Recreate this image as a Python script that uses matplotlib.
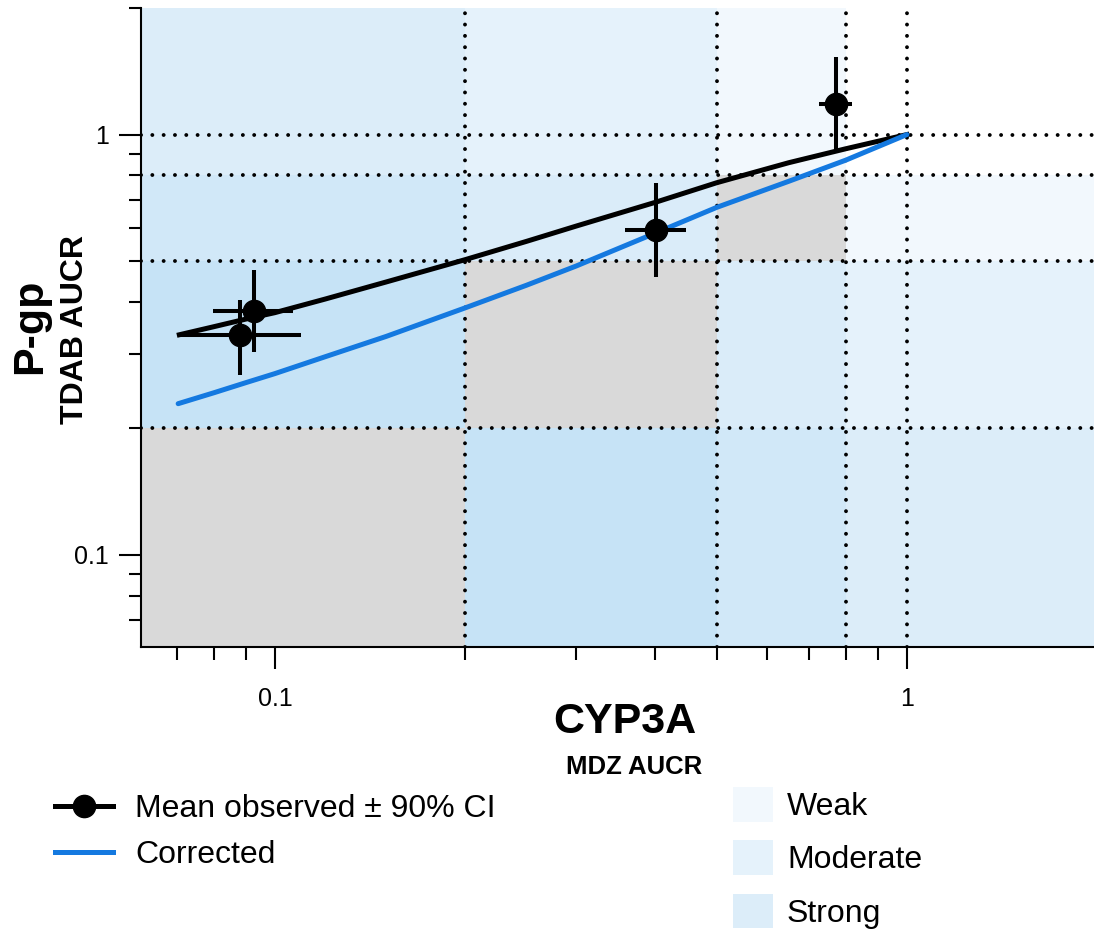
import matplotlib
matplotlib.use("Agg")
import matplotlib.pyplot as plt
import matplotlib.ticker as mticker
from matplotlib.lines import Line2D
from matplotlib.patches import Patch

plt.rcParams['font.family'] = ['Liberation Sans', 'DejaVu Sans']

# observed mean AUC ratios with 90% CI (CYP3A probe on x, P-gp probe on y)
obs_mdz = [0.0926, 0.0880, 0.401, 0.772]
obs_mdz_lo = [0.0798, 0.0708, 0.358, 0.726]
obs_mdz_hi = [0.107, 0.110, 0.447, 0.818]
obs_tdab = [0.381, 0.334, 0.594, 1.185]
obs_tdab_lo = [0.304, 0.268, 0.459, 0.916]
obs_tdab_hi = [0.477, 0.405, 0.769, 1.53]

# predicted curve
pred_mdz = [0.0706, 0.08, 0.09, 0.1, 0.12, 0.15, 0.2, 0.25, 0.3, 0.4, 0.5, 0.65, 0.8, 1.0]
pred_tdab = [0.334, 0.349, 0.364, 0.377, 0.406, 0.446, 0.504, 0.557, 0.606, 0.690, 0.768,
             0.857, 0.925, 1.0]

# corrected curve
corr_mdz = [0.0703, 0.08, 0.09, 0.1, 0.12, 0.15, 0.2, 0.25, 0.3, 0.4, 0.5, 0.65, 0.8, 1.0]
corr_tdab = [0.229, 0.243, 0.257, 0.270, 0.296, 0.331, 0.387, 0.438, 0.487, 0.583, 0.671,
             0.774, 0.869, 1.0]

# interaction classes and their AUCR bands
class_names = ['Weak', 'Moderate', 'Strong']
class_lo = [0.5, 0.2, 0.001]
class_hi = [0.8, 0.5, 0.2]
class_alpha = [0.06, 0.117, 0.16]
cutoffs = [0.2, 0.5, 0.8, 1.0]

band_color = '#2995DF'
blue = '#1479E0'

fig = plt.figure(figsize=(10.94, 9.30), dpi=100)
ax = fig.add_axes([141 / 1094, 1 - 647 / 930, 1 - 141 / 1094, (647 - 8) / 930])
ax.set_xscale('log')
ax.set_yscale('log')
ax.set_xlim(0.0614, 1.977)
ax.set_ylim(0.0604, 2.0)

# shaded bands for each probe, grey where both fall in the same class
for lo, hi, a in zip(class_lo, class_hi, class_alpha):
    ax.axvspan(lo, hi, color=band_color, alpha=a, lw=0, zorder=0)
    ax.axhspan(lo, hi, color=band_color, alpha=a, lw=0, zorder=0)
    ax.fill_between([lo, hi], lo, hi, color='#D9D9D9', lw=0, zorder=1)

for c in cutoffs:
    ax.axvline(c, color='k', lw=2.8, dashes=(0.01, 2.9), dash_capstyle='round', zorder=2)
    ax.axhline(c, color='k', lw=2.8, dashes=(0.01, 2.9), dash_capstyle='round', zorder=2)

ax.plot(pred_mdz, pred_tdab, color='k', lw=3.6, zorder=3, solid_joinstyle='round')
ax.plot(corr_mdz, corr_tdab, color=blue, lw=3.6, zorder=3, solid_joinstyle='round',
        solid_capstyle='round')

xerr = [[m - l for m, l in zip(obs_mdz, obs_mdz_lo)],
        [h - m for m, h in zip(obs_mdz, obs_mdz_hi)]]
yerr = [[m - l for m, l in zip(obs_tdab, obs_tdab_lo)],
        [h - m for m, h in zip(obs_tdab, obs_tdab_hi)]]
ax.errorbar(obs_mdz, obs_tdab, xerr=xerr, yerr=yerr, fmt='o', color='k',
            ms=16, elinewidth=2.9, capsize=0, zorder=4)

for side in ['top', 'right']:
    ax.spines[side].set_visible(False)
for side in ['left', 'bottom']:
    ax.spines[side].set_linewidth(1.5)

for axis in [ax.xaxis, ax.yaxis]:
    axis.set_major_locator(mticker.LogLocator(base=10))
    axis.set_minor_locator(mticker.LogLocator(base=10, subs=[2, 3, 4, 5, 6, 7, 8, 9]))
    axis.set_major_formatter(mticker.FuncFormatter(lambda v, _: f'{v:g}'))
    axis.set_minor_formatter(mticker.NullFormatter())
ax.tick_params(which='major', length=16, width=1.5, labelsize=18)
ax.tick_params(which='minor', length=9, width=1.5)
ax.tick_params(axis='x', which='major', pad=13)
ax.tick_params(axis='y', which='major', pad=7)

fig.text(625 / 1094, 1 - 722 / 930, 'CYP3A', fontsize=31, fontweight='bold',
         ha='center', va='center')
fig.text(634 / 1094, 1 - 767 / 930, 'MDZ AUCR', fontsize=18.5, fontweight='bold',
         ha='center', va='center')
fig.text(30 / 1094, 1 - 326 / 930, 'P-gp', fontsize=31, fontweight='bold',
         ha='center', va='center', rotation=90)
fig.text(75 / 1094, 1 - 329 / 930, 'TDAB AUCR', fontsize=23, fontweight='bold',
         ha='center', va='center', rotation=90)

fig.legend(
    handles=[Line2D([], [], color='k', lw=3.6, marker='o', ms=16),
             Line2D([], [], color=blue, lw=3.6)],
    labels=['Mean observed \u00b1 90% CI', 'Corrected'],
    loc='upper left', bbox_to_anchor=(55 / 1094, 1 - 794 / 930),
    frameon=False, fontsize=23, handlelength=1.82, handletextpad=0.69,
    labelspacing=0.5, borderpad=0, borderaxespad=0)

fig.legend(
    handles=[Patch(facecolor=band_color, alpha=a, lw=0) for a in class_alpha],
    labels=class_names,
    loc='upper left', bbox_to_anchor=(733 / 1094, 1 - 787 / 930),
    frameon=False, fontsize=23, handlelength=1.25, handleheight=1.3,
    handletextpad=0.44, labelspacing=0.57, borderpad=0, borderaxespad=0)

fig.savefig('out.png', dpi=100)
